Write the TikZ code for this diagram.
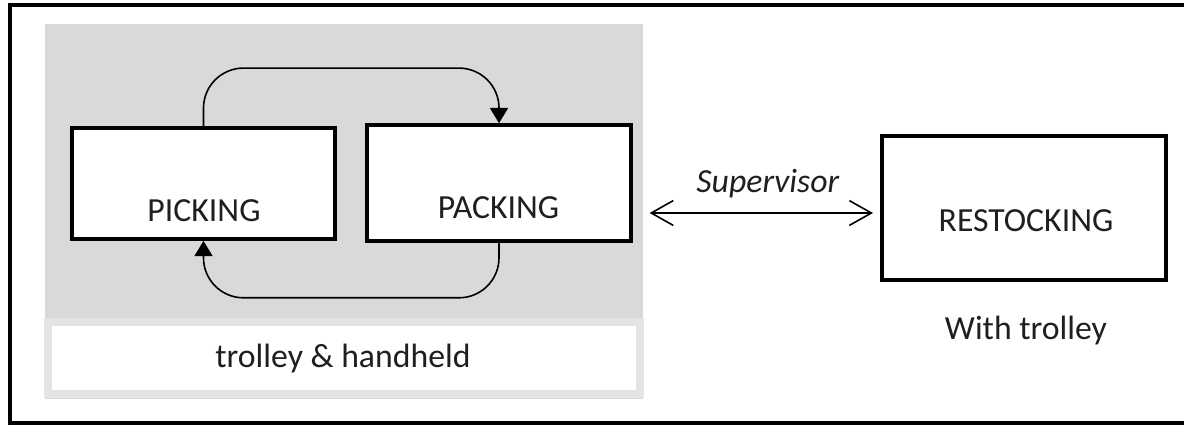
\documentclass[tikz,border=0pt]{standalone}
\usepackage{fontspec}
\setmainfont{Carlito}
\usepackage{xcolor}
\usepackage{tikz}
\usetikzlibrary{arrows.meta, positioning}
\usetikzlibrary{calc}

\definecolor{areagrey}{HTML}{D9D9D9}
\definecolor{bandgrey}{HTML}{E4E4E4}
\definecolor{inkgrey}{HTML}{1F1F1F}

\begin{document}
\begin{tikzpicture}[x=0.125mm, y=-0.125mm,
  stage/.style={draw, fill=white, line width=0.45mm, inner sep=0pt},
  word/.style={text=inkgrey, font=\fontsize{12}{14}\selectfont, inner sep=0pt},
  flow/.style={line width=0.2mm, rounded corners=5mm, -{Triangle[length=1.9mm, width=2.25mm]}},
  super/.style={line width=0.2mm, {Straight Barb[length=2.75mm, width=3.1mm]}-{Straight Barb[length=2.75mm, width=3.1mm]}, shorten <=2.1mm, shorten >=0.9mm}]
\clip (0,0) rectangle (1184,426);
\fill[white] (0,0) rectangle (1184,426);
\draw[line width=0.55mm] (10,5) rectangle (1200,423);
% grey area and its caption band
\fill[areagrey] (45,24) rectangle (643,399);
\draw[bandgrey, fill=white, line width=1mm] (47.5,322.5) rectangle (639.5,394.5);
\node[word, anchor=base] (kit) at (343,368) {trolley \& handheld};

\node[stage, minimum width=32.9mm, minimum height=13.9mm] (pick) at (203.5,183.5) {};
\node[stage, minimum width=33mm, minimum height=14.5mm] (pack) at (499,183) {};
\node[stage, minimum width=35.5mm, minimum height=18mm] (restock) at (1024,208) {};
\node[word] (picktxt) at (204,210.5) {PICKING};
\node[word] (packtxt) at (498.5,207.5) {PACKING};
\node[word] (restocktxt) at (1026,221) {RESTOCKING};
\node[word, anchor=base] (trolley) at (1026,340) {With trolley};

\draw[flow] (pick.north) -- ++(0,-58) -| (pack.north);
\draw[flow] (pack.south) -- ++(0,55) -| (pick.south);

\coordinate (supR) at ([yshift=-0.625mm]restock.west);
\draw[super] (pack.east |- supR) -- (supR);
\node[word, anchor=base] (suptxt) at (768,193) {\textit{Supervisor}};
\end{tikzpicture}
\end{document}
